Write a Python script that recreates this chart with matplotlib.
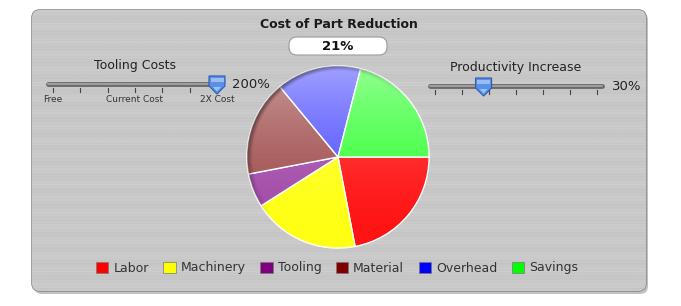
import matplotlib.pyplot as plt
import numpy as np
from matplotlib.patches import FancyBboxPatch, Polygon, Patch, Circle

plt.rcParams['font.family'] = ['DejaVu Sans']

# data
categories = ["Labor", "Machinery", "Tooling", "Material", "Overhead", "Savings"]
shares = [22, 19, 6, 17, 15, 21]
legend_colors = ["#ff0000", "#ffff00", "#800080", "#800000", "#0000ff", "#00ff00"]
pie_colors = ["#ff1414", "#ffff14", "#a24aa8", "#a25050", "#5555ff", "#3cff3c"]

tooling_value = 200          # % of current cost
tooling_range = (0, 200)
tooling_labels = ["Free", "Current Cost", "2X Cost"]
productivity_value = 30      # %
productivity_range = (0, 100)

W, H = 681, 306
fig = plt.figure(figsize=(W / 100, H / 100), dpi=100)
fig.patch.set_facecolor("white")
ax = fig.add_axes([0, 0, 1, 1])
ax.set_xlim(0, W)
ax.set_ylim(H, 0)
ax.axis("off")

# --- brushed metal panel ---
shadow = FancyBboxPatch((34, 12), 614, 282, boxstyle="round,pad=0,rounding_size=8",
                        fc="#9a9a9a", ec="none", alpha=0.6, zorder=0)
ax.add_patch(shadow)
panel = FancyBboxPatch((32, 10), 614, 281, boxstyle="round,pad=0,rounding_size=8",
                       fc="#c6c6c6", ec="#8c8c8c", lw=1.2, zorder=1)
ax.add_patch(panel)
rows = np.arange(300)
streak = 0.785 + 0.012 * np.sin(rows * 1.9) + 0.01 * np.sin(rows * 0.41 + 1.0) + 0.008 * np.sin(rows * 3.7)
tex = np.repeat(streak[:, None], 10, axis=1)
im = ax.imshow(tex, cmap="gray", vmin=0, vmax=1, extent=(32, 646, 291, 10),
               aspect="auto", zorder=1.5, interpolation="bilinear")
im.set_clip_path(panel)

# --- title and result box ---
ax.text(339, 25, "Cost of Part Reduction", ha="center", va="center",
        fontsize=9, fontweight="bold", color="#1a1a1a", zorder=5)
box = FancyBboxPatch((289, 37), 98, 18, boxstyle="round,pad=0,rounding_size=8",
                     fc="white", ec="#9a9a9a", lw=0.8, zorder=4)
ax.add_patch(box)
ax.text(338, 46.5, f"{shares[-1]}%", ha="center", va="center",
        fontsize=9.5, fontweight="bold", color="#111111", zorder=5)


def draw_slider(x0, x1, y, value, vrange, nticks, title, value_text, labels=None):
    ax.plot([x0 - 5, x1 + 5], [y, y], color="#6a6a6a", lw=3.5, solid_capstyle="round", zorder=4)
    ax.plot([x0 - 5, x1 + 5], [y + 0.4, y + 0.4], color="#a4a4a4", lw=1.3,
            solid_capstyle="round", zorder=4)
    for tx in np.linspace(x0, x1, nticks):
        ax.plot([tx, tx], [y + 4, y + 8], color="#444444", lw=0.8, zorder=4)
    frac = (value - vrange[0]) / (vrange[1] - vrange[0])
    tx = x0 + frac * (x1 - x0)
    thumb = Polygon([(tx - 8, y - 8), (tx + 8, y - 8), (tx + 8, y + 2), (tx, y + 10), (tx - 8, y + 2)],
                    closed=True, fc="#5b8fe8", ec="#2e5caa", lw=0.8, joinstyle="round", zorder=6)
    ax.add_patch(thumb)
    hl = Polygon([(tx - 6.5, y - 6.5), (tx + 6.5, y - 6.5), (tx + 6.5, y - 2), (tx - 6.5, y - 2)],
                 closed=True, fc="#a9c8f5", ec="none", alpha=0.8, zorder=6.5)
    ax.add_patch(hl)
    tip = Polygon([(tx - 4, y + 3), (tx + 4, y + 3), (tx, y + 7.5)],
                  closed=True, fc="#8fd0ff", ec="none", alpha=0.9, zorder=6.5)
    ax.add_patch(tip)
    ax.text((x0 + x1) / 2, y - 19, title, ha="center", va="center",
            fontsize=9, color="#222222", zorder=5)
    ax.text(x1 + 15, y + 1, value_text, ha="left", va="center",
            fontsize=9.5, color="#222222", zorder=5)
    if labels:
        for lx, lab in zip(np.linspace(x0, x1, len(labels)), labels):
            ax.text(lx, y + 16, lab, ha="center", va="center",
                    fontsize=6.5, color="#333333", zorder=5)


draw_slider(53, 217, 84, tooling_value, tooling_range, 7, "Tooling Costs",
            f"{tooling_value}%", tooling_labels)
draw_slider(435, 597, 86, productivity_value, productivity_range, 7,
            "Productivity Increase", f"{productivity_value}%")

# --- pie ---
cx, cy, r = 338, 157, 92
pax = fig.add_axes([(cx - r) / W, 1 - (cy + r) / H, 2 * r / W, 2 * r / H])
pax.pie(shares, colors=pie_colors, startangle=0, counterclock=False, radius=1,
        wedgeprops=dict(edgecolor="white", linewidth=1.0))
pax.set_xlim(-1.01, 1.01)
pax.set_ylim(-1.01, 1.01)
pax.axis("off")

# glossy light from the top, dark rim on the upper left
n = 300
gx, gy = np.meshgrid(np.linspace(-1, 1, n), np.linspace(1, -1, n))
rr = np.hypot(gx, gy)
light = 0.45 * np.clip((gy + 1) / 2, 0, 1) ** 2
gloss = np.ones((n, n, 4))
gloss[:, :, 3] = light
gim = pax.imshow(gloss, extent=(-1, 1, -1, 1), aspect="auto", zorder=3, interpolation="bilinear")
gim.set_clip_path(Circle((0, 0), 1, transform=pax.transData))
ang = np.arctan2(gy, gx)
side = np.clip(np.cos(ang - 2.3), 0, 1)
ring = np.clip((rr - 0.94) / 0.06, 0, 1)
rim = np.zeros((n, n, 4))
rim[:, :, 3] = 0.55 * ring * side
rim_im = pax.imshow(rim, extent=(-1, 1, -1, 1), aspect="auto", zorder=4, interpolation="bilinear")
rim_im.set_clip_path(Circle((0, 0), 1, transform=pax.transData))
pax.set_xlim(-1.01, 1.01)
pax.set_ylim(-1.01, 1.01)

# --- legend ---
handles = [Patch(fc=c, ec="#777777", lw=0.5) for c in legend_colors]
leg = fig.legend(handles, categories, loc="center", bbox_to_anchor=(337 / W, 1 - 268 / H),
                 ncol=6, frameon=False, fontsize=9, handlelength=1.0, handleheight=1.0,
                 handletextpad=0.4, columnspacing=1.15)
for t in leg.get_texts():
    t.set_color("#333333")

fig.savefig("out.png", dpi=100, facecolor="white")
